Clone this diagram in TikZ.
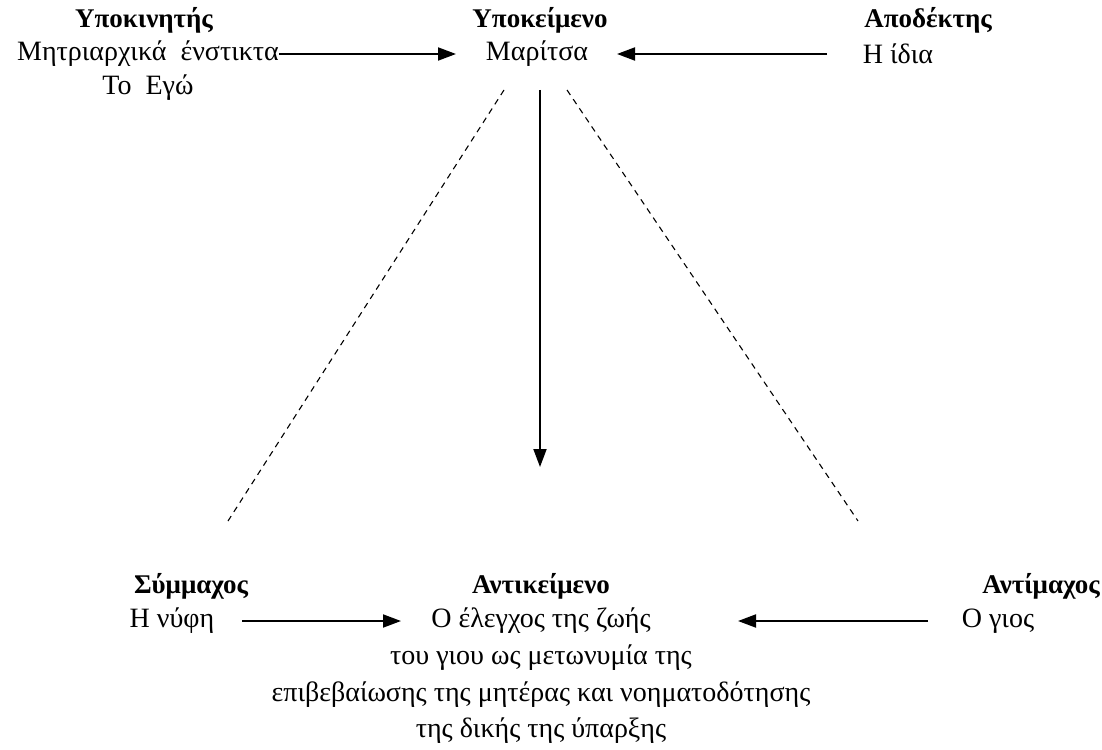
\documentclass[tikz,border=0pt]{standalone}
\usepackage{fontspec}
\setmainfont{Liberation Serif}
\usetikzlibrary{arrows.meta}
\tikzset{
  txt/.style={inner sep=0pt, font=\fontsize{28}{33}\selectfont},
  hdr/.style={inner sep=0pt, font=\fontsize{27}{32}\selectfont\bfseries},
  arr/.style={line width=1.9pt, -{Triangle[length=18pt,width=13pt]}},
  dsh/.style={line width=1.1pt, dash pattern=on 6pt off 5pt}
}
\begin{document}
\begin{tikzpicture}[x=1pt,y=-1pt]
\useasboundingbox (0,0) rectangle (1102,749);
% top row
\node[hdr] (sub1) at (144,20) {Υποκινητής};
\node[hdr] (subj) at (540,20) {Υποκείμενο};
\node[hdr] (rec)  at (928,20) {Αποδέκτης};
\node[txt] (inst) at (148,54) {Μητριαρχικά\ \ ένστικτα};
\node[txt] (marit) at (537,54) {Μαρίτσα};
\node[txt] (idia) at (898,54) {Η ίδια};
\node[txt] (ego) at (148,88) {Το\ \ Εγώ};
% bottom row
\node[hdr] (ally) at (191,586) {Σύμμαχος};
\node[hdr] (obj)  at (541,586) {Αντικείμενο};
\node[hdr] (opp)  at (1041,586) {Αντίμαχος};
\node[txt] (nyfi) at (172,621) {Η νύφη};
\node[txt] (ctrl) at (541,621) {Ο έλεγχος της ζωής};
\node[txt] (gios) at (998,621) {Ο γιος};
\node[txt] (l1) at (541,658) {του γιου ως μετωνυμία της};
\node[txt] (l2) at (541,695) {επιβεβαίωσης της μητέρας και νοηματοδότησης};
\node[txt] (l3) at (541,731) {της δικής της ύπαρξης};
% connector ends
\coordinate (vtop) at (540,90);
\coordinate (vbot) at (540,467);
\coordinate (dlt) at (504,90);
\coordinate (dlb) at (228,521);
\coordinate (drt) at (567,90);
\coordinate (drb) at (858,521);
% arrows
\draw[arr] (inst.east) -- (inst.east -| 456,0);
\draw[arr] (idia.west -| 827,0) -- (idia.west -| 617,0);
\draw[arr] (vtop) -- (vbot);
\draw[arr] (nyfi.east -| 242,0) -- (nyfi.east -| 401,0);
\draw[arr] (gios.west -| 928,0) -- (gios.west -| 738,0);
\draw[dsh] (dlt) -- (dlb);
\draw[dsh] (drt) -- (drb);
\end{tikzpicture}
\end{document}
